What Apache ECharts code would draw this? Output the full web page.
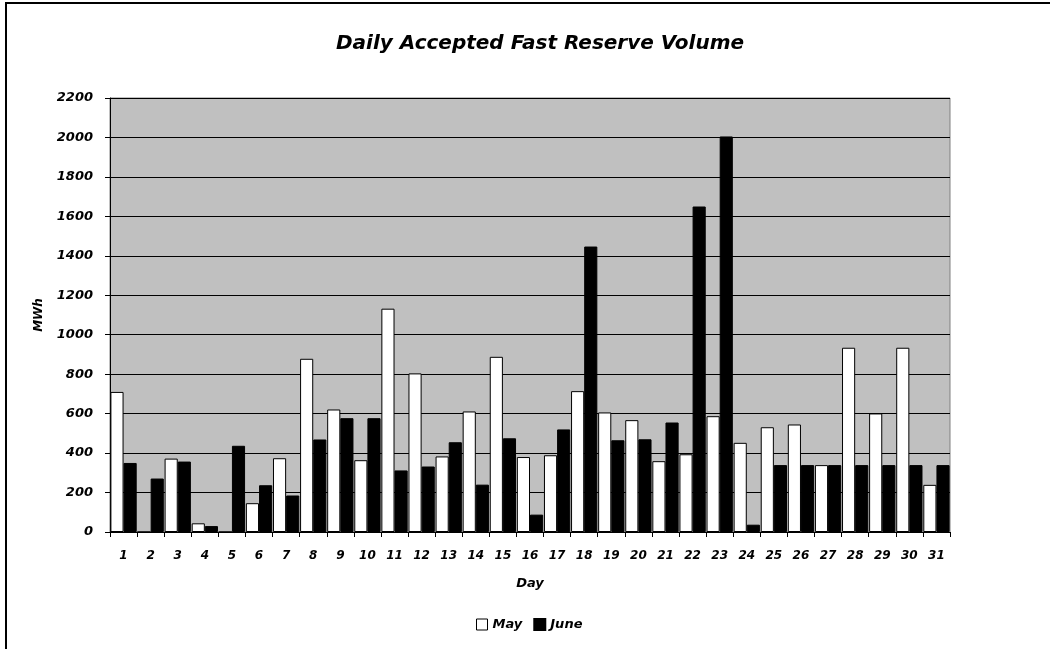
<!DOCTYPE html>
<html>
<head>
<meta charset="utf-8">
<script src="https://cdn.jsdelivr.net/npm/echarts@6/dist/echarts.min.js"></script>
<style>
html,body{margin:0;padding:0;background:#fff;}
#chart{width:1050px;height:649px;}
</style>
</head>
<body>
<div id="chart"></div>
<script>
var days = ['1','2','3','4','5','6','7','8','9','10','11','12','13','14','15','16','17','18','19','20','21','22','23','24','25','26','27','28','29','30','31'];
var mayValues = [710, 0, 372, 44, 0, 146, 374, 878, 621, 364, 1132, 804, 383, 611, 888, 380, 389, 714, 606, 567, 359, 394, 587, 452, 531, 545, 339, 934, 601, 934, 239];
var juneValues = [350, 271, 357, 30, 437, 237, 185, 469, 577, 577, 312, 332, 455, 240, 475, 88, 520, 1447, 465, 470, 555, 1650, 2005, 37, 339, 339, 339, 339, 339, 339, 339];
var yTicks = {min: 0, max: 2200, interval: 200};

var font = '"DejaVu Sans", Arial, sans-serif';
var chart = echarts.init(document.getElementById('chart'));
chart.setOption({
  backgroundColor: '#fff',
  animation: false,
  textStyle: {fontFamily: font},
  graphic: [{
    type: 'rect', silent: true, z: -10,
    shape: {x: 6, y: 3, width: 1100, height: 700},
    style: {fill: 'none', stroke: '#000', lineWidth: 2}
  }],
  title: {
    text: 'Daily Accepted Fast Reserve Volume',
    left: 535, top: 29, textAlign: 'center',
    textStyle: {fontFamily: font, fontSize: 20, fontWeight: 'bold', fontStyle: 'italic', color: '#000'}
  },
  legend: {
    top: 613, left: 471,
    icon: 'rect', itemWidth: 11, itemHeight: 11, itemGap: 11,
    textStyle: {fontFamily: font, fontSize: 13, fontWeight: 'bold', fontStyle: 'italic', color: '#000'},
    data: [
      {name: 'May', itemStyle: {color: '#fff', borderColor: '#000', borderWidth: 1}},
      {name: 'June', itemStyle: {color: '#000'}}
    ]
  },
  grid: {
    left: 110, right: 100, top: 98, bottom: 117,
    show: true, backgroundColor: '#C0C0C0', borderColor: '#808080', borderWidth: 1
  },
  xAxis: {
    type: 'category', data: days,
    name: 'Day', nameLocation: 'middle', nameGap: 45,
    nameTextStyle: {fontFamily: font, fontSize: 13, fontWeight: 'bold', fontStyle: 'italic', color: '#000'},
    axisLine: {lineStyle: {color: '#000', width: 1}},
    axisTick: {show: true, length: 5, lineStyle: {color: '#000'}},
    axisLabel: {interval: 0, margin: 18, fontFamily: font, fontSize: 12, fontWeight: 'bold', fontStyle: 'italic', color: '#000'}
  },
  yAxis: {
    type: 'value', min: yTicks.min, max: yTicks.max, interval: yTicks.interval,
    name: 'MWh', nameLocation: 'middle', nameGap: 65, nameRotate: 90,
    nameTextStyle: {fontFamily: font, fontSize: 12, fontWeight: 'bold', fontStyle: 'italic', color: '#000'},
    axisLine: {show: true, lineStyle: {color: '#000', width: 1}},
    axisTick: {show: true, length: 5, lineStyle: {color: '#000'}},
    axisLabel: {margin: 17, fontFamily: font, fontSize: 13, fontWeight: 'bold', fontStyle: 'italic', color: '#000',
      formatter: function (v) { return String(v); }},
    splitLine: {show: true, lineStyle: {color: '#000', width: 1}}
  },
  series: [
    {name: 'May', type: 'bar', data: mayValues, barGap: '0%', barCategoryGap: '3%',
     itemStyle: {color: '#fff', borderColor: '#000', borderWidth: 1}},
    {name: 'June', type: 'bar', data: juneValues, barGap: '0%', barCategoryGap: '3%',
     itemStyle: {color: '#000', borderColor: '#000', borderWidth: 1}}
  ]
});
</script>
</body>
</html>
